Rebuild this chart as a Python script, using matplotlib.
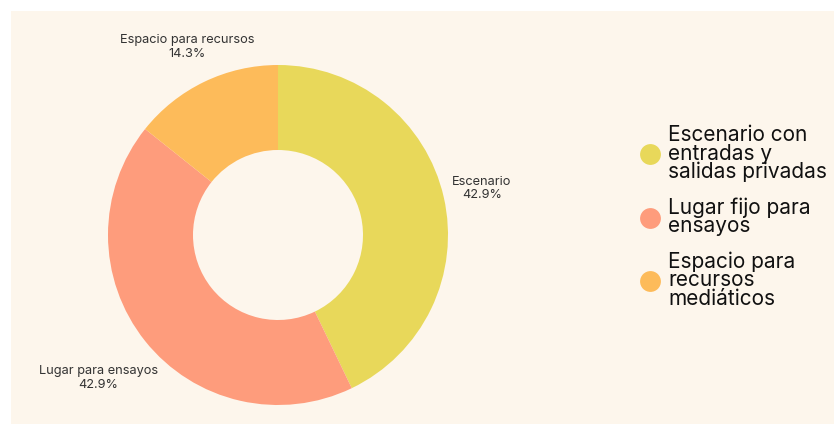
import numpy as np
import matplotlib
matplotlib.use('Agg')
import matplotlib.pyplot as plt
from matplotlib.lines import Line2D
from matplotlib.patches import Rectangle

# datos del grafico
categorias = ['Escenario', 'Lugar para ensayos', 'Espacio para recursos']
valores = [3, 3, 1]
leyenda = ['Escenario con\nentradas y\nsalidas privadas',
           'Lugar fijo para\nensayos',
           'Espacio para\nrecursos\nmediáticos']
colores = ['#E8D85A', '#FE9C7C', '#FDBB5A']

fondo = '#FDF6EC'
plt.rcParams['font.family'] = ['Inter', 'DejaVu Sans']

W, H = 834, 424
fig = plt.figure(figsize=(W / 100, H / 100), dpi=100)
fig.patch.set_facecolor('white')
# panel crema
fig.patches.append(Rectangle((11 / W, 0), 1 - 11 / W, 1 - 11 / H,
                             transform=fig.transFigure, facecolor=fondo,
                             edgecolor='none', zorder=-5))

# eje de la dona: centro (278, 235), radio 170 px
cx, cy, r = 278, 235, 170
ax = fig.add_axes([(cx - r) / W, (H - cy - r) / H, 2 * r / W, 2 * r / H])
ax.set_zorder(2)
ax.set_facecolor('none')
wedges, _ = ax.pie(valores, colors=colores, startangle=90, counterclock=False,
                   radius=1, wedgeprops=dict(width=0.5, edgecolor='none'))
ax.set_xlim(-1, 1)
ax.set_ylim(-1, 1)
ax.set_aspect('equal')
ax.axis('off')

# etiquetas con porcentaje
total = sum(valores)
distancias = [1.23, 1.35, 1.23]
for w, cat, v, d in zip(wedges, categorias, valores, distancias):
    ang = np.deg2rad((w.theta1 + w.theta2) / 2)
    ax.text(d * np.cos(ang), d * np.sin(ang),
            '%s\n%.1f%%' % (cat, 100 * v / total),
            ha='center', va='center', fontsize=9.2, color='#333333',
            linespacing=1.2, clip_on=False)

handles = [Line2D([], [], marker='o', linestyle='none', markersize=15,
                  markerfacecolor=c, markeredgecolor='none') for c in colores]
leg = fig.legend(handles, leyenda, loc='center left',
                 bbox_to_anchor=(619 / W, 1 - 217 / H), frameon=False,
                 fontsize=15, handletextpad=0.25, labelspacing=0.75,
                 handlelength=1.2)
leg.set_zorder(3)
for t in leg.get_texts():
    t.set_linespacing(0.88)
    t.set_color('#111111')

fig.savefig('out.png', dpi=100, facecolor=fig.get_facecolor())
